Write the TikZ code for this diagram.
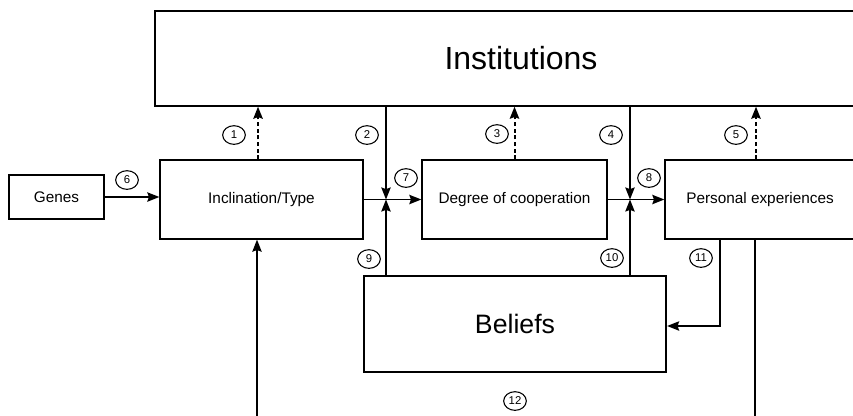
\documentclass[tikz,border=0pt]{standalone}
\usepackage{fontspec}
\setmainfont{Liberation Sans}
\usetikzlibrary{arrows.meta,shapes.geometric}
\tikzset{
    >={Stealth[length=9pt,width=7pt,inset=1.2pt]},
    box/.style={rectangle,draw,line width=1pt,inner sep=0pt,font=\fontsize{11.5}{13}\selectfont},
    num/.style={ellipse,draw,line width=0.8pt,inner sep=0pt,minimum width=17pt,minimum height=14pt,font=\fontsize{8.5}{10}\selectfont},
    link/.style={line width=1.2pt},
    weak/.style={line width=1.5pt,dash pattern=on 3pt off 2pt}
}

\begin{document}
\begin{tikzpicture}[x=0.75pt,y=-0.75pt]
    \useasboundingbox (0,0) rectangle (853,415);
    \clip (0,0) rectangle (853,415);

    \node[box,minimum width=549pt,minimum height=71.25pt,font=\fontsize{24}{28}\selectfont] (inst) at (521,58.5) {Institutions};
    \node[box,minimum width=71.25pt,minimum height=33pt] (genes) at (56.5,197) {Genes};
    \node[box,minimum width=152.25pt,minimum height=59.25pt] (incl) at (261.5,199.5) {Inclination/Type};
    \node[box,minimum width=138.75pt,minimum height=59.25pt] (coop) at (514.5,199.5) {Degree of cooperation};
    \node[box,minimum width=142.5pt,minimum height=59.25pt] (pers) at (760,199.5) {Personal experiences};
    \node[box,line width=1.7pt,minimum width=226.5pt,minimum height=72pt,font=\fontsize{20}{24}\selectfont] (bel) at (515,324) {Beliefs};

    \coordinate (j7) at (386,199.5);
    \coordinate (j8) at (630,199.5);
    \coordinate (fb) at (720,326);
    \coordinate (lpR) at (755,430);
    \coordinate (lpL) at (257,430);

    % main chain
    \draw[link,->] (genes.east) -- (genes.east -| incl.west);
    \draw[link,->] (incl) -- (coop);
    \draw[link,->] (coop) -- (pers);

    % institutions and beliefs into the chain
    \draw[link,->] (inst.south -| j7) -- (j7);
    \draw[link,->] (bel.north -| j7) -- (j7);
    \draw[link,->] (inst.south -| j8) -- (j8);
    \draw[link,->] (bel.north -| j8) -- (j8);

    % feedback to institutions
    \draw[weak,->] ([xshift=-2.6pt]incl.north) -- ([xshift=-2.6pt]incl.north |- inst.south);
    \draw[weak,->] (coop.north) -- (coop.north |- inst.south);
    \draw[weak,->] ([xshift=-3pt]pers.north) -- ([xshift=-3pt]pers.north |- inst.south);

    % experiences back to beliefs and type
    \draw[link,->] (pers.south -| fb) -- (fb) -- (fb -| bel.east);
    \draw[link,->] (pers.south -| lpR) -- (lpR) -- (lpL) -- (lpL |- incl.south);

    \node[num] (n1) at (234,135) {1};
    \node[num] (n2) at (367,135) {2};
    \node[num] (n3) at (497,134) {3};
    \node[num] (n4) at (611,135) {4};
    \node[num] (n5) at (736,135) {5};
    \node[num] (n6) at (127,180) {6};
    \node[num] (n7) at (406,178) {7};
    \node[num] (n8) at (649,178) {8};
    \node[num] (n9) at (369,259) {9};
    \node[num] (n10) at (612,258) {10};
    \node[num] (n11) at (701,258) {11};
    \node[num] (n12) at (515,401) {12};
\end{tikzpicture}
\end{document}
